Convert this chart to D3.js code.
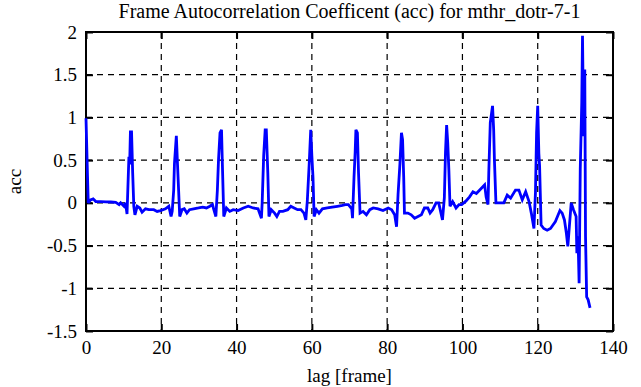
<!DOCTYPE html>
<html>
<head>
<meta charset="utf-8">
<script src="https://cdn.jsdelivr.net/npm/d3@7"></script>
<style>
  body { margin: 0; background: #fff; }
  svg text { font-family: "Liberation Serif", "Times New Roman", serif; fill: #000; }
</style>
</head>
<body>
<div id="viz"></div>
<script>
// lag [frame] and acc
var lag = [0, 0.4, 0.6, 1.2, 1.9, 2.6, 3.9, 5.3, 6.6, 7.9, 8.8, 9.2, 10.1, 10.5, 10.9, 11.4, 11.6, 11.8, 12.1, 12.4,
  12.7, 13.0, 13.6, 14.3, 14.9, 15.8, 16.7, 18.0, 18.9, 19.8, 21.1, 22.0, 22.6, 22.9, 23.3, 23.5, 24.0, 24.3, 24.6, 24.9,
  25.5, 26.1, 26.8, 27.5, 28.6, 29.9, 31.0, 32.0, 32.9, 33.6, 33.9, 34.5, 34.9, 35.2, 35.6, 36.0, 36.2, 36.6, 37.3, 38.2,
  39.1, 40.4, 41.8, 43.1, 44.4, 45.7, 46.6, 46.8, 47.2, 47.6, 47.9, 48.3, 48.6, 49.2, 50.1, 50.7, 51.4, 52.3, 53.6, 54.4,
  55.3, 56.2, 57.1, 57.9, 58.4, 58.8, 59.3, 59.7, 60.0, 60.3, 60.6, 61.2, 61.9, 62.8, 64.1, 65.4, 66.8, 68.1, 68.9, 69.7,
  70.6, 70.8, 71.2, 71.5, 71.7, 72.1, 72.4, 72.8, 73.6, 74.5, 75.4, 76.3, 77.6, 78.9, 80.3, 81.2, 82.0, 82.5, 82.9, 83.4,
  83.8, 84.1, 84.4, 84.6, 85.5, 86.4, 87.3, 88.2, 89.1, 89.9, 90.8, 91.4, 92.1, 93.0, 93.7, 94.3, 94.7, 95.2, 95.5, 95.8,
  96.1, 96.4, 96.7, 97.4, 98.3, 99.1, 99.8, 100.9, 101.9, 102.8, 103.7, 104.6, 105.9, 106.3, 106.8, 107.0, 107.4, 108.0, 108.3, 108.5,
  108.9, 110.1, 111.0, 111.9, 112.8, 114.1, 115.0, 115.9, 116.8, 117.7, 118.3, 119.0, 119.4, 119.7, 120.0, 120.3, 120.5, 120.9, 121.6, 122.5,
  123.4, 124.7, 125.9, 126.5, 127.1, 127.6, 128.0, 128.4, 128.9, 129.5, 130.2, 130.4, 130.7, 131.0, 131.3, 131.7, 131.9, 132.2, 132.5, 132.7,
  133.0, 133.4, 133.9];
var acc = [0.99, 0.31, 0.0, 0.035, 0.047, 0.015, 0.015, 0.012, 0.01, 0.005, -0.02, 0.0, -0.04, 0.0, -0.13, 0.54, 0.45, 0.83, 0.83, 0.35,
  -0.04, -0.14, -0.04, -0.06, -0.11, -0.07, -0.08, -0.08, -0.1, -0.09, -0.07, -0.04, -0.16, -0.1, 0.15, 0.46, 0.785, 0.46, 0.15, -0.16,
  -0.08, -0.07, -0.12, -0.08, -0.07, -0.06, -0.05, -0.06, -0.04, -0.02, -0.07, -0.16, 0.15, 0.5, 0.82, 0.855, 0.5, -0.16, -0.06, -0.1,
  -0.08, -0.09, -0.06, -0.04, -0.06, -0.07, -0.18, 0.0, 0.55, 0.855, 0.855, 0.35, -0.16, -0.08, -0.12, -0.16, -0.1, -0.1, -0.08, -0.04,
  -0.06, -0.08, -0.08, -0.12, -0.2, 0.03, 0.46, 0.855, 0.55, 0.3, -0.16, -0.08, -0.12, -0.07, -0.06, -0.05, -0.04, -0.03, -0.02, -0.02,
  -0.07, -0.18, 0.3, 0.59, 0.855, 0.82, 0.35, -0.12, -0.1, -0.14, -0.08, -0.06, -0.07, -0.09, -0.06, -0.08, -0.14, -0.28, 0.1, 0.46,
  0.82, 0.74, 0.3, -0.12, -0.12, -0.14, -0.18, -0.16, -0.14, -0.06, -0.06, -0.12, -0.08, 0.0, 0.0, -0.12, -0.2, 0.06, 0.59, 0.91,
  0.7, 0.38, -0.04, 0.015, -0.06, -0.02, -0.02, 0.02, 0.07, 0.13, 0.11, 0.15, 0.21, 0.07, -0.02, 0.35, 0.94, 1.135, 0.855, 0.5,
  0.0, 0.0, 0.0, 0.09, 0.055, 0.15, 0.15, 0.035, 0.13, 0.015, -0.12, -0.3, 0.12, 0.82, 1.135, 0.58, 0.43, -0.26, -0.30, -0.32,
  -0.30, -0.22, -0.09, -0.12, -0.2, -0.35, -0.51, -0.28, 0.0, -0.08, -0.16, -0.59, -0.39, -0.94, 0.39, 1.17, 1.955, 0.78, 1.56, -0.39,
  -1.1, -1.135, -1.23];

var xTicks = [0, 20, 40, 60, 80, 100, 120, 140];
var yTicks = [-1.5, -1, -0.5, 0, 0.5, 1, 1.5, 2];

var width = 641,
    height = 387,
    pLeft = 86, pRight = 613, pTop = 32, pBottom = 331;

var x = d3.scaleLinear().domain([0, 140]).range([pLeft, pRight]);
var y = d3.scaleLinear().domain([-1.5, 2]).range([pBottom, pTop]);

var svg = d3.select("#viz").append("svg")
    .attr("width", width)
    .attr("height", height);

// grid
var grid = svg.append("g")
    .attr("stroke", "#000")
    .attr("stroke-width", 1.2)
    .attr("stroke-dasharray", "6,5");
grid.selectAll("line.gx")
    .data(xTicks.slice(1, -1))
    .enter().append("line")
    .attr("x1", function(d) { return x(d); })
    .attr("x2", function(d) { return x(d); })
    .attr("y1", pTop)
    .attr("y2", pBottom);
grid.selectAll("line.gy")
    .data(yTicks.slice(1, -1))
    .enter().append("line")
    .attr("y1", function(d) { return y(d); })
    .attr("y2", function(d) { return y(d); })
    .attr("x1", pLeft)
    .attr("x2", pRight);

// axes, ticks pointing inward
function fmt(d) { return String(d); }

var gx = svg.append("g")
    .attr("transform", "translate(0," + pBottom + ")")
    .call(d3.axisBottom(x).tickValues(xTicks).tickSize(-7).tickPadding(10).tickFormat(fmt));
var gy = svg.append("g")
    .attr("transform", "translate(" + pLeft + ",0)")
    .call(d3.axisLeft(y).tickValues(yTicks).tickSize(-7).tickPadding(9).tickFormat(fmt));
var gt = svg.append("g")
    .attr("transform", "translate(0," + pTop + ")")
    .call(d3.axisTop(x).tickValues(xTicks).tickSize(-7).tickFormat(""));
var gr = svg.append("g")
    .attr("transform", "translate(" + pRight + ",0)")
    .call(d3.axisRight(y).tickValues(yTicks).tickSize(-7).tickFormat(""));

[gx, gy, gt, gr].forEach(function(g) {
  g.select(".domain").remove();
  g.selectAll(".tick line").attr("stroke", "#000").attr("stroke-width", 2);
  g.selectAll(".tick text")
    .style("font-family", "'Liberation Serif', serif")
    .style("font-size", "19px")
    .attr("fill", "#000");
});

// frame
svg.append("rect")
    .attr("x", pLeft)
    .attr("y", pTop)
    .attr("width", pRight - pLeft)
    .attr("height", pBottom - pTop)
    .attr("fill", "none")
    .attr("stroke", "#000")
    .attr("stroke-width", 2);

// the series
var line = d3.line()
    .x(function(d, i) { return x(lag[i]); })
    .y(function(d) { return y(d); });

svg.append("path")
    .datum(acc)
    .attr("d", line)
    .attr("fill", "none")
    .attr("stroke", "#0000ff")
    .attr("stroke-width", 2.8)
    .attr("stroke-linejoin", "miter")
    .attr("stroke-miterlimit", 3);

// texts
svg.append("text")
    .attr("x", (pLeft + pRight) / 2)
    .attr("y", 18)
    .attr("text-anchor", "middle")
    .style("font-size", "20px")
    .text("Frame Autocorrelation Coefficent (acc) for mthr_dotr-7-1");

svg.append("text")
    .attr("x", (pLeft + pRight) / 2)
    .attr("y", 382)
    .attr("text-anchor", "middle")
    .style("font-size", "19px")
    .text("lag [frame]");

svg.append("text")
    .attr("transform", "translate(21," + ((pTop + pBottom) / 2) + ") rotate(-90)")
    .attr("text-anchor", "middle")
    .style("font-size", "19px")
    .text("acc");
</script>
</body>
</html>
